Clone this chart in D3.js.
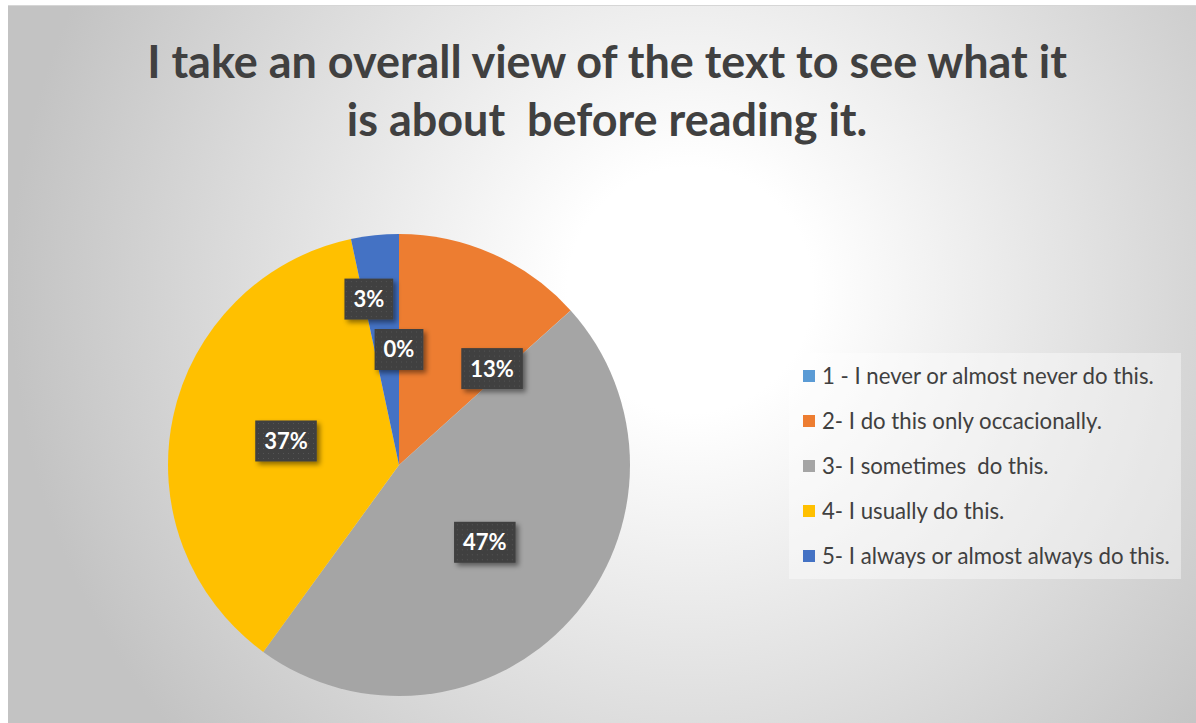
<!DOCTYPE html>
<html>
<head>
<meta charset="utf-8">
<script src="https://cdn.jsdelivr.net/npm/d3@7"></script>
<style>
  html, body { margin: 0; padding: 0; background: #ffffff; }
  svg { display: block; }
  svg text { white-space: pre; }
</style>
</head>
<body>
<svg id="chart" width="1196" height="723"></svg>
<script>
// Survey responses for one reading-strategy statement
const categories = [
  "1 - I never or almost never do this.",
  "2- I do this only occacionally.",
  "3- I sometimes  do this.",
  "4- I usually do this.",
  "5- I always or almost always do this."
];
const responses = [0, 4, 14, 11, 1];
const colors = ["#5B9BD5", "#ED7D31", "#A5A5A5", "#FFC000", "#4472C4"];
const titleLines = [
  "I take an overall view of the text to see what it",
  "is about  before reading it."
];

const W = 1196, H = 723;
const svg = d3.select("#chart");
const defs = svg.append("defs");

// Chart area background: radial light-to-gray fill
const bg = defs.append("radialGradient")
  .attr("id", "bgGrad")
  .attr("gradientUnits", "userSpaceOnUse")
  .attr("cx", 690).attr("cy", 290).attr("r", 680);
bg.append("stop").attr("offset", 0).attr("stop-color", "#ffffff");
bg.append("stop").attr("offset", 0.18).attr("stop-color", "#ffffff");
bg.append("stop").attr("offset", 1).attr("stop-color", "#c3c3c3");

svg.append("rect")
  .attr("x", 8).attr("y", 5)
  .attr("width", W - 8).attr("height", H - 5)
  .attr("fill", "url(#bgGrad)");
svg.append("line")
  .attr("x1", 8).attr("x2", W).attr("y1", 5.5).attr("y2", 5.5)
  .attr("stroke", "#d6d6d6").attr("stroke-width", 1);

// Dotted texture for data-label boxes
const pat = defs.append("pattern")
  .attr("id", "dots")
  .attr("patternUnits", "userSpaceOnUse")
  .attr("width", 5).attr("height", 5);
pat.append("rect").attr("width", 5).attr("height", 5).attr("fill", "#404040");
pat.append("rect").attr("x", 2).attr("y", 2).attr("width", 1).attr("height", 1).attr("fill", "#555555");

const shadow = defs.append("filter")
  .attr("id", "shadow")
  .attr("x", "-30%").attr("y", "-30%").attr("width", "170%").attr("height", "170%");
shadow.append("feDropShadow")
  .attr("dx", 3).attr("dy", 3).attr("stdDeviation", 2.5)
  .attr("flood-color", "#000").attr("flood-opacity", 0.45);

// Title
const title = svg.append("g");
const titleFont = "Lato, 'Open Sans', sans-serif";
titleLines.forEach((line, i) => {
  title.append("text")
    .attr("x", 607)
    .attr("y", 78 + i * 58)
    .attr("text-anchor", "middle")
    .attr("font-family", titleFont)
    .attr("font-weight", "bold")
    .attr("font-size", 40)
    .attr("fill", "#404040")
    .text(line);
});
// fit first title line to its width
{
  const first = title.select("text").node();
  const len = first.getComputedTextLength();
  const size = 40 * 920 / len;
  title.selectAll("text").attr("font-size", size);
}

// Pie
const cx = 399, cy = 465, R = 231;
const pie = d3.pie().sort(null).value(d => d)(responses);
const arc = d3.arc().innerRadius(0).outerRadius(R);
const total = d3.sum(responses);

const pieG = svg.append("g").attr("transform", `translate(${cx},${cy})`);
pieG.selectAll("path")
  .data(pie)
  .join("path")
  .attr("d", arc)
  .attr("fill", (d, i) => colors[i]);

// Label placement: centroid at half radius, with a few slices moved for fit
const labelFit = { 1: { angle: 44, r: 0.58 }, 4: { angle: 349.7, r: 0.73 } };
const fmt = d3.format(".0%");
const labels = pieG.selectAll("g.lbl")
  .data(pie)
  .join("g")
  .attr("class", "lbl")
  .attr("transform", (d, i) => {
    let ang = (d.startAngle + d.endAngle) / 2;
    let rr = 0.5;
    if (labelFit[i]) { ang = labelFit[i].angle * Math.PI / 180; rr = labelFit[i].r; }
    const x = Math.sin(ang) * R * rr;
    const y = -Math.cos(ang) * R * rr;
    return `translate(${x},${y})`;
  });

labels.each(function(d) {
  const g = d3.select(this);
  const txt = fmt(d.data / total);
  const t = g.append("text")
    .attr("text-anchor", "middle")
    .attr("dy", "0.36em")
    .attr("font-family", titleFont)
    .attr("font-weight", "bold")
    .attr("font-size", 22)
    .attr("fill", "#ffffff")
    .text(txt);
  const w = t.node().getComputedTextLength() + 18;
  const h = 41;
  g.insert("rect", "text")
    .attr("x", -w / 2).attr("y", -h / 2)
    .attr("width", w).attr("height", h)
    .attr("fill", "url(#dots)")
    .attr("filter", "url(#shadow)");
});

// Legend
const legend = svg.append("g");
legend.append("rect")
  .attr("x", 789).attr("y", 353)
  .attr("width", 392).attr("height", 226)
  .attr("fill", "#ffffff").attr("fill-opacity", 0.4);

const rowY = d3.scalePoint().domain(d3.range(categories.length)).range([376, 556]);
const items = legend.selectAll("g.item")
  .data(categories)
  .join("g")
  .attr("class", "item")
  .attr("transform", (d, i) => `translate(803,${rowY(i)})`);
items.append("rect")
  .attr("x", 0).attr("y", -6)
  .attr("width", 12).attr("height", 12)
  .attr("fill", (d, i) => colors[i]);
items.append("text")
  .attr("x", 19)
  .attr("dy", "0.36em")
  .attr("font-family", titleFont)
  .attr("font-size", 19)
  .attr("fill", "#404040")
  .text(d => d);
{
  const first = items.select("text").node();
  const len = first.getComputedTextLength();
  items.selectAll("text").attr("font-size", 19 * 332 / len);
}
</script>
</body>
</html>
